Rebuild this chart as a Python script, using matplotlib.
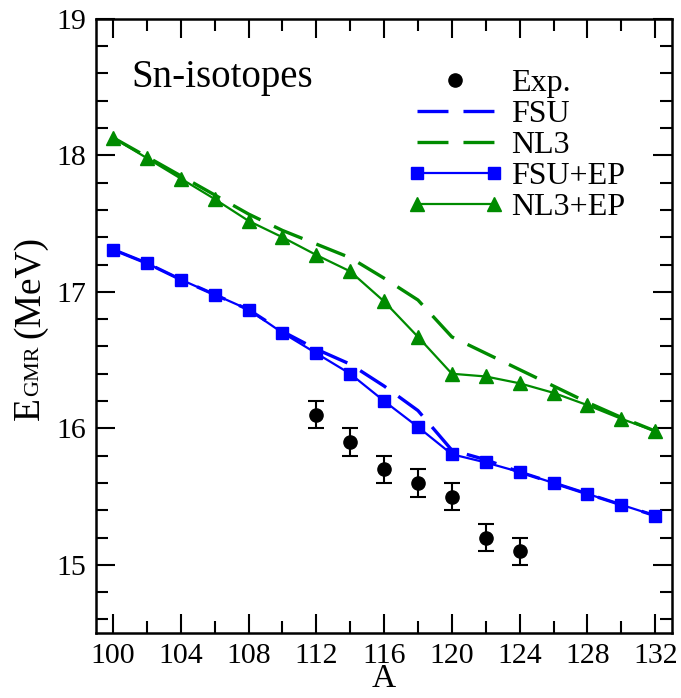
import matplotlib
matplotlib.use("Agg")
import matplotlib.pyplot as plt
import numpy as np
from matplotlib.legend_handler import HandlerLine2D

plt.rcParams['font.family'] = ['Liberation Serif', 'DejaVu Serif']
plt.rcParams['lines.scale_dashes'] = False

A = np.arange(100, 133, 2)

fsu = np.array([17.31, 17.21, 17.09, 16.98, 16.87, 16.71, 16.58, 16.47, 16.31,
                16.13, 15.84, 15.77, 15.68, 15.60, 15.52, 15.44, 15.36])
nl3 = np.array([18.13, 17.99, 17.85, 17.71, 17.57, 17.45, 17.35, 17.25, 17.10,
                16.94, 16.67, 16.55, 16.43, 16.31, 16.19, 16.08, 15.98])
fsu_ep = np.array([17.31, 17.21, 17.09, 16.98, 16.87, 16.70, 16.55, 16.40, 16.20,
                   16.01, 15.81, 15.75, 15.68, 15.60, 15.52, 15.44, 15.36])
nl3_ep = np.array([18.13, 17.98, 17.83, 17.68, 17.52, 17.40, 17.27, 17.15, 16.93,
                   16.67, 16.40, 16.38, 16.33, 16.26, 16.17, 16.07, 15.98])

A_exp = np.array([112, 114, 116, 118, 120, 122, 124])
E_exp = np.array([16.1, 15.9, 15.7, 15.6, 15.5, 15.2, 15.1])
E_err = np.array([0.1, 0.1, 0.1, 0.1, 0.1, 0.1, 0.1])

blue = '#0000ff'
green = '#008b00'
W, H = 681, 698

fig = plt.figure(figsize=(W / 100, H / 100), dpi=100)
ax = fig.add_axes([0.141, 0.093, 0.846, 0.880])

ax.errorbar(A_exp, E_exp, yerr=E_err, fmt='none', ecolor='black', elinewidth=1.5,
            capsize=5.5, capthick=1.5, zorder=4)
exp_line, = ax.plot(A_exp, E_exp, 'o', color='black', markersize=9.5, label='Exp.', zorder=5)
ax.plot(A, fsu, color=blue, lw=2.4, dashes=(22.3, 10.8), label='FSU')
ax.plot(A, nl3, color=green, lw=2.4, dashes=(22.3, 10.8), label='NL3')
ax.plot(A, fsu_ep, color=blue, lw=1.6, marker='s', markersize=8.5, label='FSU+EP')
ax.plot(A, nl3_ep, color=green, lw=1.6, marker='^', markersize=10, label='NL3+EP')

ax.set_xlim(99, 133)
ax.set_ylim(14.5, 19)
ax.set_xticks(np.arange(100, 133, 4))
ax.set_xticks(np.arange(100, 133, 2), minor=True)
ax.set_yticks([15, 16, 17, 18, 19])
ax.set_yticks(np.arange(14.6, 19, 0.2), minor=True)
ax.tick_params(which='both', direction='in', top=True, right=True, width=1.5,
               labelsize=21.5)
ax.tick_params(which='major', length=13.5, pad=7)
ax.tick_params(which='minor', length=8.5)
for s in ax.spines.values():
    s.set_linewidth(1.8)

ax.set_xlabel('A', fontsize=24, labelpad=-4)

ax.text(101.1, 18.5, 'Sn-isotopes', fontsize=28, va='baseline')

ax.legend(loc='upper left', bbox_to_anchor=(0.540, 0.919), frameon=False, fontsize=23,
          handlelength=3.01, handletextpad=0.23, labelspacing=0.05, borderpad=0,
          borderaxespad=0, numpoints=2,
          handler_map={exp_line: HandlerLine2D(numpoints=1)})

# y label built from pieces so the subscript can be sized like the original
fig.canvas.draw()
r = fig.canvas.get_renderer()
kw = dict(rotation=90, rotation_mode='anchor', ha='left', va='baseline')
t_e = fig.text(39 / W, 1 - 420 / H, 'E', fontsize=27, **kw)
y_next = t_e.get_window_extent(r).y1 + 1
t_sub = fig.text(38 / W, y_next / H, 'GMR', fontsize=16, **kw)
y_next = t_sub.get_window_extent(r).y1 + 7
fig.text(39 / W, y_next / H, '(MeV)', fontsize=27, **kw)

fig.savefig('out.png', dpi=100)
